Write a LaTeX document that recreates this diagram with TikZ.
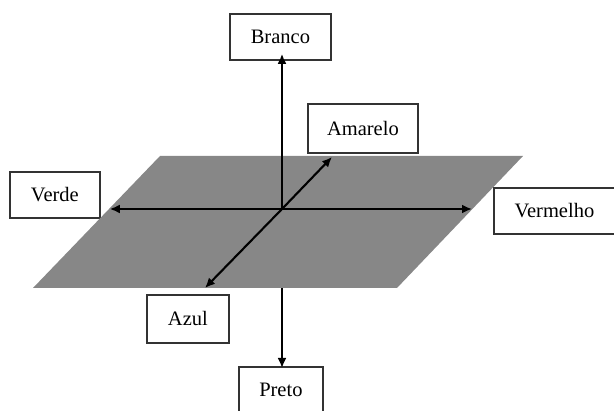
\documentclass[tikz,border=0pt]{standalone}
\usepackage{fontspec}
\setmainfont{Liberation Serif}
\usetikzlibrary{arrows.meta}
\begin{document}
\begin{tikzpicture}[x=1pt,y=-1pt,
  lbl/.style={draw=black!80,line width=1.8pt,fill=white,font=\fontsize{20.5}{24}\selectfont,inner sep=0pt,anchor=north west},
  axis/.style={line width=2.1pt,-{Latex[length=10pt,width=9pt]}},
  plane/.style={fill=black!47,draw=none}]
\useasboundingbox (0,0) rectangle (614,411);
\clip (0,0) rectangle (614,411);
\coordinate (o) at (282,209);
% boxes
\node[lbl,minimum width=101pt,minimum height=46pt] (branco) at (229,13) {Branco};
\node[lbl,minimum width=110pt,minimum height=49pt] (amarelo) at (307,103) {Amarelo};
\node[lbl,minimum width=90pt,minimum height=46pt] (verde) at (9,171) {Verde};
\node[lbl,minimum width=121pt,minimum height=46pt] (vermelho) at (493,187) {Vermelho};
\node[lbl,minimum width=82pt,minimum height=48pt] (azul) at (146,294) {Azul};
\node[lbl,minimum width=84pt,minimum height=60pt,text depth=14pt] (preto) at (238,366) {Preto};
% hidden part of vertical axis
\draw[axis] (o) -- ([yshift=-2pt]preto.north -| o);
% plane
\path[plane] (160,156) -- (523,156) -- (397,288) -- (33,288) -- cycle;
% axes on top
\draw[axis] (o) -- ([yshift=7pt]branco.south -| o);
\draw[axis] (o) -- ([xshift=9pt]verde.east |- o);
\draw[axis] (o) -- ([xshift=-21pt]vermelho.west |- o);
\draw[axis] (o) -- (332,157);
\draw[axis] (o) -- (205,288);
\end{tikzpicture}
\end{document}
